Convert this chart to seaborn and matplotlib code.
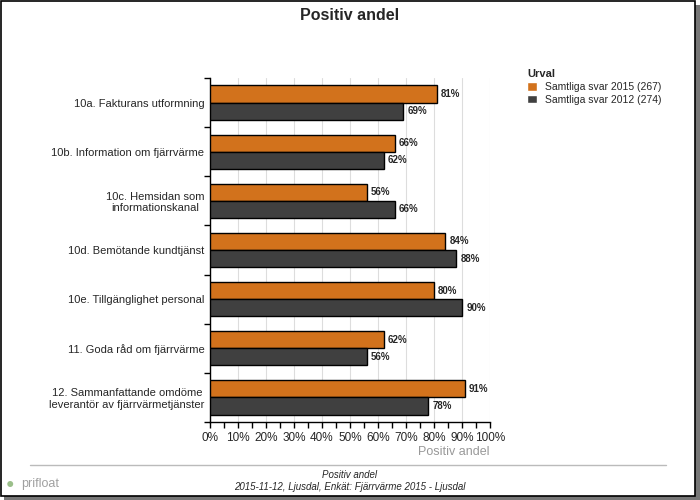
import pandas as pd
import numpy as np
import matplotlib.pyplot as plt
import seaborn as sns
from matplotlib.patches import Rectangle
from matplotlib.ticker import MultipleLocator, FixedLocator

categories = [
    "10a. Fakturans utformning",
    "10b. Information om fjärrvärme",
    "10c. Hemsidan som\ninformationskanal",
    "10d. Bemötande kundtjänst",
    "10e. Tillgänglighet personal",
    "11. Goda råd om fjärrvärme",
    "12. Sammanfattande omdöme\nleverantör av fjärrvärmetjänster",
]
series_names = ["Samtliga svar 2015 (267)", "Samtliga svar 2012 (274)"]
values_2015 = [81, 66, 56, 84, 80, 62, 91]
values_2012 = [69, 62, 66, 88, 90, 56, 78]
colors = ["#D2721C", "#404040"]

df = pd.DataFrame({
    "Fråga": categories * 2,
    "Urval": [series_names[0]] * 7 + [series_names[1]] * 7,
    "Andel": values_2015 + values_2012,
})

sns.set_style("white")
plt.rcParams['font.family'] = ['Liberation Sans', 'DejaVu Sans']

fig = plt.figure(figsize=(7, 5), dpi=100)
ax = fig.add_axes([0.30, 0.156, 0.40, 0.688])

sns.barplot(data=df, y="Fråga", x="Andel", hue="Urval", palette=colors,
            orient="h", width=0.7, saturation=1, edgecolor="black", linewidth=1,
            legend=False, ax=ax, zorder=3)

for cont in ax.containers:
    ax.bar_label(cont, labels=[f"{v:.0f}%" for v in cont.datavalues],
                 padding=3, fontsize=7, fontweight="bold")

ax.set_xlim(0, 100)
ax.set_ylim(6.5, -0.5)
ax.xaxis.set_major_locator(MultipleLocator(10))
ax.xaxis.set_minor_locator(MultipleLocator(5))
ax.set_xticklabels([f"{int(t)}%" for t in ax.get_xticks()], fontsize=8.5)
ax.tick_params(axis="x", which="both", direction="out", length=4, width=1,
               color="black", bottom=True)
ax.grid(axis="x", color="#DDDDDD", linewidth=0.8, zorder=0)

ax.yaxis.set_minor_locator(FixedLocator(np.arange(-0.5, 7, 1)))
ax.tick_params(axis="y", which="major", length=0, labelsize=8, pad=4)
ax.tick_params(axis="y", which="minor", direction="out", length=4, width=1,
               color="black", left=True)
for lbl in ax.get_yticklabels():
    lbl.set_multialignment("center")

ax.set_ylabel("")
ax.set_xlabel("Positiv andel", color="#999999", fontsize=9, loc="right", labelpad=1)
for s in ["top", "right"]:
    ax.spines[s].set_visible(False)
for s in ["left", "bottom"]:
    ax.spines[s].set_color("black")
    ax.spines[s].set_linewidth(1)

fig.text(0.5, 0.968, "Positiv andel", ha="center", va="center",
         fontsize=11.5, fontweight="bold")

handles = [Rectangle((0, 0), 1, 1, facecolor=c) for c in colors]
leg = fig.legend(handles, series_names, title="Urval", loc="upper left",
                 bbox_to_anchor=(0.74, 0.88), frameon=False, fontsize=7.5,
                 handlelength=0.9, handleheight=0.9, handletextpad=0.8,
                 labelspacing=0.25, alignment="left")
leg.get_title().set_fontweight("bold")
leg.get_title().set_fontsize(8)

# footer
fig.add_artist(plt.Line2D([0.043, 0.952], [0.07, 0.07], color="#BBBBBB", lw=1))
fig.text(0.5, 0.05, "Positiv andel", ha="center", va="center",
         fontsize=7, style="italic")
fig.text(0.5, 0.027, "2015-11-12, Ljusdal, Enkät: Fjärrvärme 2015 - Ljusdal",
         ha="center", va="center", fontsize=7, style="italic")
fig.text(0.008, 0.032, "●", color="#9BBF8A", fontsize=10, va="center")
fig.text(0.03, 0.032, "prifloat", color="#A0A0A0", fontsize=9, va="center")

# frame with shadow
fig.add_artist(Rectangle((0.006, 0.0), 0.994, 0.99, transform=fig.transFigure,
                         facecolor="#777777", edgecolor="none", zorder=-2))
fig.add_artist(Rectangle((0.001, 0.009), 0.992, 0.989, transform=fig.transFigure,
                         facecolor="white", edgecolor="black", linewidth=1.2, zorder=-1))

fig.savefig("out.png", dpi=100)
